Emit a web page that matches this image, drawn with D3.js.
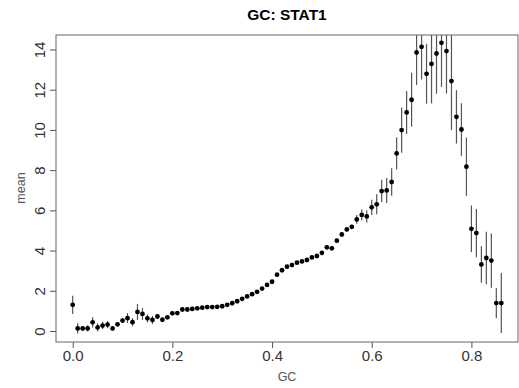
<!DOCTYPE html>
<html>
<head>
<meta charset="utf-8">
<script src="https://cdn.jsdelivr.net/npm/d3@7"></script>
<style>
  body { margin: 0; background: #fff; }
  text { font-family: "Liberation Sans", Arial, sans-serif; }
</style>
</head>
<body>
<div id="chart"></div>
<script>
// GC bins and the mean / error half-width
var gc = [0.00, 0.01, 0.02, 0.03, 0.04, 0.05, 0.06, 0.07, 0.08, 0.09,
          0.10, 0.11, 0.12, 0.13, 0.14, 0.15, 0.16, 0.17, 0.18, 0.19,
          0.20, 0.21, 0.22, 0.23, 0.24, 0.25, 0.26, 0.27, 0.28, 0.29,
          0.30, 0.31, 0.32, 0.33, 0.34, 0.35, 0.36, 0.37, 0.38, 0.39,
          0.40, 0.41, 0.42, 0.43, 0.44, 0.45, 0.46, 0.47, 0.48, 0.49,
          0.50, 0.51, 0.52, 0.53, 0.54, 0.55, 0.56, 0.57, 0.58, 0.59,
          0.60, 0.61, 0.62, 0.63, 0.64, 0.65, 0.66, 0.67, 0.68, 0.69,
          0.70, 0.71, 0.72, 0.73, 0.74, 0.75, 0.76, 0.77, 0.78, 0.79,
          0.80, 0.81, 0.82, 0.83, 0.84, 0.85, 0.86];

var means = [1.30, 0.13, 0.13, 0.13, 0.43, 0.18, 0.27, 0.32, 0.13, 0.33,
             0.52, 0.64, 0.44, 0.95, 0.85, 0.63, 0.55, 0.72, 0.56, 0.68,
             0.88, 0.89, 1.07, 1.07, 1.10, 1.13, 1.16, 1.19, 1.19, 1.20,
             1.23, 1.30, 1.38, 1.48, 1.60, 1.72, 1.83, 1.95, 2.11, 2.29,
             2.45, 2.80, 3.02, 3.20, 3.28, 3.40, 3.46, 3.53, 3.66, 3.73,
             3.89, 4.16, 4.11, 4.49, 4.80, 5.05, 5.18, 5.55, 5.77, 5.70,
             6.15, 6.30, 6.96, 6.99, 7.41, 8.83, 9.99, 10.87, 11.50, 13.85,
             14.13, 12.79, 13.28, 13.80, 14.33, 13.92, 12.43, 10.65, 10.02, 8.17,
             5.08, 4.87, 3.31, 3.63, 3.50, 1.39, 1.39];

var errs = [0.45, 0.25, 0.12, 0.15, 0.25, 0.20, 0.18, 0.18, 0.10, 0.10,
            0.12, 0.25, 0.20, 0.40, 0.30, 0.20, 0.20, 0.12, 0.08, 0.08,
            0.08, 0.06, 0.05, 0.05, 0.05, 0.05, 0.05, 0.05, 0.05, 0.05,
            0.05, 0.05, 0.05, 0.05, 0.05, 0.05, 0.05, 0.05, 0.05, 0.05,
            0.05, 0.06, 0.06, 0.06, 0.06, 0.06, 0.06, 0.06, 0.06, 0.06,
            0.06, 0.10, 0.10, 0.10, 0.10, 0.10, 0.10, 0.22, 0.27, 0.30,
            0.38, 0.50, 0.56, 0.62, 0.68, 0.80, 1.13, 1.07, 1.34, 1.62,
            1.62, 1.49, 1.96, 2.00, 2.19, 2.11, 2.44, 1.33, 1.31, 1.45,
            1.16, 1.20, 0.91, 1.30, 1.35, 0.75, 1.49];

var xTicks = [0, 0.2, 0.4, 0.6, 0.8];
var yTicks = [0, 2, 4, 6, 8, 10, 12, 14];

var data = gc.map(function(g, i) {
    return { gc: g, mean: means[i], err: errs[i] };
});

// Set up the SVG canvas.
var width = 519,
    height = 388;

var plot = ({ left: 56, right: 518, top: 35, bottom: 342 });

var svg = d3.select("#chart")
    .append("svg")
    .attr("width", width)
    .attr("height", height);

var x = d3.scaleLinear()
    .domain([-0.0335, 0.8935])
    .range([plot.left, plot.right]);

var y = d3.scaleLinear()
    .domain([-0.547, 14.72])
    .range([plot.bottom, plot.top]);

svg.append("defs").append("clipPath")
    .attr("id", "plotclip")
    .append("rect")
    .attr("x", plot.left)
    .attr("y", plot.top)
    .attr("width", plot.right - plot.left)
    .attr("height", plot.bottom - plot.top);

// Error bars
svg.append("g")
    .attr("clip-path", "url(#plotclip)")
    .selectAll("line")
    .data(data)
    .enter()
    .append("line")
    .attr("x1", function(d) { return x(d.gc); })
    .attr("x2", function(d) { return x(d.gc); })
    .attr("y1", function(d) { return y(d.mean - d.err); })
    .attr("y2", function(d) { return y(d.mean + d.err); })
    .style("stroke", "#555")
    .style("stroke-width", 1.2);

// Points
svg.append("g")
    .selectAll("circle")
    .data(data)
    .enter()
    .append("circle")
    .attr("cx", function(d) { return x(d.gc); })
    .attr("cy", function(d) { return y(d.mean); })
    .attr("r", 2.4)
    .style("fill", "#000");

// Axes
var gx = svg.append("g")
    .attr("transform", `translate(0, ${plot.bottom})`)
    .call(d3.axisBottom(x).tickValues(xTicks).tickSize(6).tickFormat(d3.format(".1f")));
gx.select(".domain").remove();
gx.selectAll("line").style("stroke", "#555");
gx.selectAll("text")
    .attr("y", 18.7)
    .attr("dy", 0)
    .style("font-size", "15px")
    .style("font-family", "\"Liberation Sans\", Arial, sans-serif")
    .style("fill", "#333");

var gy = svg.append("g")
    .attr("transform", `translate(${plot.left}, 0)`)
    .call(d3.axisLeft(y).tickValues(yTicks).tickSize(6));
gy.select(".domain").remove();
gy.selectAll("line").style("stroke", "#555");
gy.selectAll("text")
    .attr("x", 0)
    .attr("dy", 0)
    .attr("transform", "translate(-11,0) rotate(-90)")
    .style("text-anchor", "middle")
    .style("font-size", "15px")
    .style("font-family", "\"Liberation Sans\", Arial, sans-serif")
    .style("fill", "#333");

// Plot box
svg.append("rect")
    .attr("x", plot.left)
    .attr("y", plot.top)
    .attr("width", plot.right - plot.left)
    .attr("height", plot.bottom - plot.top)
    .style("fill", "none")
    .style("stroke", "#666")
    .style("stroke-width", 1);

// Titles
svg.append("text")
    .attr("x", 287)
    .attr("y", 20)
    .attr("text-anchor", "middle")
    .style("font-size", "15.5px")
    .style("font-weight", "bold")
    .text("GC: STAT1");

svg.append("text")
    .attr("x", 287)
    .attr("y", 381)
    .attr("text-anchor", "middle")
    .style("font-size", "12.5px")
    .style("fill", "#555")
    .text("GC");

svg.append("text")
    .attr("transform", "translate(25,188) rotate(-90)")
    .attr("text-anchor", "middle")
    .style("font-size", "12.5px")
    .style("fill", "#555")
    .text("mean");
</script>
</body>
</html>
